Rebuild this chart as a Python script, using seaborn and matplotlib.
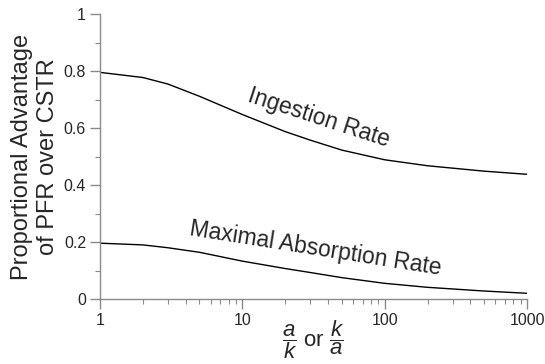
import matplotlib
matplotlib.use("Agg")
import matplotlib.pyplot as plt
import matplotlib.ticker as mticker
import pandas as pd
import seaborn as sns

# values
ratio = [1, 2, 3, 5, 10, 20, 30, 50, 100, 200, 500, 1000]
ingestion = [0.796, 0.778, 0.755, 0.712, 0.648, 0.588, 0.558, 0.523, 0.489, 0.468, 0.449, 0.438]
absorption = [0.196, 0.190, 0.180, 0.164, 0.133, 0.107, 0.093, 0.075, 0.055, 0.041, 0.028, 0.020]

df = pd.concat([
    pd.DataFrame({"ratio": ratio, "advantage": ingestion, "rate": "Ingestion Rate"}),
    pd.DataFrame({"ratio": ratio, "advantage": absorption, "rate": "Maximal Absorption Rate"}),
])

sns.set_style("ticks")
plt.rcParams["font.family"] = ["Liberation Sans", "DejaVu Sans"]
plt.rcParams["mathtext.fontset"] = "custom"
plt.rcParams["mathtext.it"] = "Liberation Sans:italic"
plt.rcParams["mathtext.rm"] = "Liberation Sans"

fig = plt.figure(figsize=(5.45, 3.64), dpi=100)
ax = fig.add_axes([0.1835, 0.1786, 0.7835, 0.7821])

sns.lineplot(data=df, x="ratio", y="advantage", units="rate", estimator=None,
             color="black", linewidth=1.0, ax=ax)

ax.set_xscale("log")
ax.set_xlim(1, 1000)
ax.set_ylim(0, 1)

ax.xaxis.set_major_locator(mticker.FixedLocator([1, 10, 100, 1000]))
ax.xaxis.set_major_formatter(mticker.FixedFormatter(["1", "10", "100", "1000"]))
ax.xaxis.set_minor_locator(mticker.LogLocator(base=10, subs=range(2, 10)))
ax.xaxis.set_minor_formatter(mticker.NullFormatter())
ax.yaxis.set_major_locator(mticker.MultipleLocator(0.2))
ax.yaxis.set_major_formatter(mticker.FuncFormatter(lambda v, p: f"{v:g}"))
ax.yaxis.set_minor_locator(mticker.MultipleLocator(0.1))

gray = "#8a8a8a"
for s in ["top", "right"]:
    ax.spines[s].set_visible(False)
for s in ["left", "bottom"]:
    ax.spines[s].set_color(gray)
    ax.spines[s].set_linewidth(1.0)
ax.tick_params(which="major", length=7, width=1.0, color=gray, labelsize=11.5, pad=3)
ax.tick_params(which="minor", length=3.5, width=0.8, color=gray)

ax.set_ylabel("Proportional Advantage\nof PFR over CSTR", fontsize=17, linespacing=1.2)
ax.yaxis.set_label_coords(-0.097, 0.5)
ax.set_xlabel(r"$\dfrac{a}{k}$ or $\dfrac{k}{a}$", fontsize=16, va="top")
ax.xaxis.set_label_coords(0.5, -0.066)

ax.text(34.7, 0.637, "Ingestion Rate", fontsize=16.5, rotation=-18,
        ha="center", va="center")
ax.text(32.7, 0.176, "Maximal Absorption Rate", fontsize=16.5, rotation=-9,
        ha="center", va="center")

fig.savefig("out.png", dpi=100)
